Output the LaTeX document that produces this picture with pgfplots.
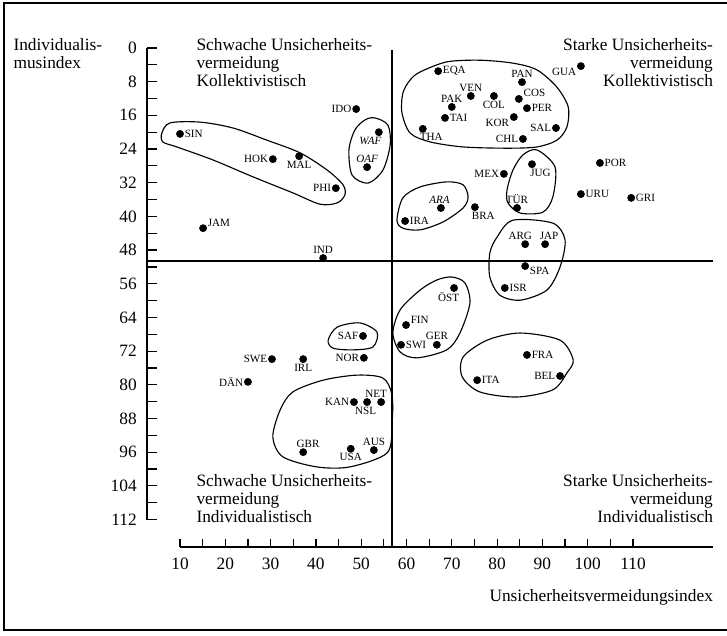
\documentclass[border=0pt]{standalone}
\usepackage{fontspec}
\setmainfont{Liberation Serif}
\usepackage{pgfplots}
\pgfplotsset{compat=1.18}
\newcommand\qfont{\fontsize{13}{13.4}\selectfont}
\newcommand\cfont{\fontsize{8.3}{9}\selectfont}
\pgfplotsset{
  unit/.style={x=3.3975pt, y=3.1575pt},
  blob/.style={black, line width=0.85pt, smooth cycle, mark=none},
  dots/.style={only marks, mark=*, mark size=2.7pt, black,
    nodes near coords, point meta=explicit symbolic,
    visualization depends on={value \thisrow{ang}\as\ang},
    every node near coord/.append style={anchor=\ang, inner sep=3.4pt, font=\cfont}},
}
\begin{document}
\begin{tikzpicture}
\useasboundingbox (0,0) rectangle (545.25pt,476.25pt);
\draw[line width=1pt] (545.25pt,474pt) -- (3pt,474pt) -- (3pt,3.75pt) -- (545.25pt,3.75pt);

\begin{axis}[at={(0,0)}, anchor=south west, unit, y dir=reverse,
  xmin=-29.73, xmax=130.75, ymin=-11.40, ymax=139.43,
  axis lines=none, clip=false]

% quadrant dividers
\addplot[black, line width=0.9pt, mark=none] coordinates {(2.7,50.6) (127.6,50.6)};
\addplot[black, line width=0.9pt, mark=none] coordinates {(56.8,0.5) (56.8,118.5)};

% groups
\addplot[blob] coordinates {(6.0,20.2) (7.8,17.8) (14.4,17.6) (21.7,19.0) (29.2,21.9) (36.5,24.9) (42.5,29.0) (46.0,32.5) (46.4,34.9) (44.7,36.8) (40.9,37.1) (34.9,34.4) (26.1,30.6) (17.3,26.6) (9.3,23.5) (6.2,22.3)};
\addplot[blob] coordinates {(53.0,16.6) (55.9,18.3) (56.4,23.0) (54.8,29.0) (51.5,32.1) (48.0,30.2) (47.3,24.2) (48.6,19.5) (50.8,17.1)};
\addplot[blob] coordinates {(63.0,5.7) (68.9,3.3) (76.2,2.9) (83.5,3.6) (88.8,5.2) (93.2,9.3) (95.7,14.0) (95.4,18.8) (93.2,21.9) (88.8,23.5) (82.2,23.8) (72.5,23.5) (65.2,22.3) (60.8,20.2) (59.0,15.4) (59.2,10.7) (60.8,7.6)};
\addplot[blob] coordinates {(88.8,24.2) (92.8,28.3) (92.3,35.4) (90.1,39.0) (85.1,39.2) (82.4,36.8) (82.2,33.7) (83.5,29.0) (85.7,25.4)};
\addplot[blob] coordinates {(57.9,40.9) (59.2,35.6) (63.0,33.0) (68.9,31.8) (72.5,32.5) (73.6,35.4) (72.5,38.0) (68.1,41.3) (63.0,43.2) (59.2,42.8)};
\addplot[blob] coordinates {(83.5,40.9) (92.3,41.6) (95.0,45.6) (93.9,52.0) (91.0,57.5) (85.1,59.9) (80.6,58.7) (78.4,54.4) (78.4,48.7) (80.0,44.9)};
\addplot[blob] coordinates {(70.0,54.4) (72.9,55.8) (74.0,60.6) (71.8,67.7) (68.9,71.7) (62.3,73.6) (58.6,72.2) (57.0,67.7) (58.6,62.2) (63.0,57.5) (66.7,55.1)};
\addplot[blob] coordinates {(85.1,67.7) (93.9,69.4) (96.8,74.1) (95.4,77.2) (92.3,81.2) (84.4,82.9) (76.2,81.7) (72.3,78.1) (72.5,73.4) (77.8,69.4)};
\addplot[blob] coordinates {(42.7,69.4) (44.7,66.3) (49.7,65.3) (53.5,67.5) (52.6,71.0) (48.2,71.7) (43.8,71.3)};
\addplot[blob] coordinates {(34.9,81.7) (41.6,78.9) (49.1,77.7) (54.8,78.4) (56.8,82.4) (56.8,89.5) (55.7,96.2) (47.5,99.5) (40.2,99.5) (32.7,97.1) (30.5,92.4) (32.1,86.0)};

% countries
\addplot[dots] table[meta=label] {
x y label ang
10.0 20.4 SIN 180
30.5 26.4 HOK 0
36.3 25.7 MAL 90
44.4 33.3 PHI 0
48.9 14.5 IDO 0
15.1 42.8 JAM 200
41.6 49.9 IND 270
30.3 73.9 SWE 0
37.2 73.9 IRL 90
50.6 73.6 NOR 0
50.4 68.4 SAF 0
25.0 79.3 DÄN 0
48.4 84.1 KAN 0
51.3 84.1 NSL 80
54.4 84.1 NET 300
37.2 96.0 GBR 240
47.7 95.2 USA 90
52.8 95.5 AUS 270
67.0 5.5 EQA 180
74.2 11.4 VEN 270
79.3 11.4 COL 90
70.0 14.0 PAK 270
85.5 8.1 PAN 270
84.8 12.1 COS 200
86.6 14.3 PER 180
68.5 16.6 TAI 180
83.7 16.4 KOR 20
93.0 19.0 SAL 0
63.6 19.2 THA 135
85.7 21.6 CHL 0
98.5 4.3 GUA 20
102.7 27.3 POR 180
81.5 29.9 MEX 0
87.7 27.6 JUG 135
98.5 34.7 URU 180
109.6 35.6 GRI 180
84.4 38.0 TÜR 270
75.1 37.8 BRA 135
59.7 41.1 IRA 180
86.2 46.6 ARG 300
90.6 46.6 JAP 245
86.2 51.8 SPA 160
81.7 57.0 ISR 180
70.5 57.0 ÖST 60
59.9 65.8 FIN 200
58.8 70.5 SWI 180
66.7 70.5 GER 270
86.6 72.9 FRA 180
75.6 78.9 ITA 180
93.9 77.9 BEL 0
};
\addplot[dots, every node near coord/.append style={font=\cfont\itshape}] table[meta=label] {
x y label ang
53.9 20.0 WAF 45
51.3 28.3 OAF 270
67.6 38.0 ARA 280
};

% texts
\node[anchor=north west, align=left, inner sep=0pt, font=\qfont] at (axis cs:-26.8,-2.3) {Individualis-\\musindex};
\node[anchor=north west, align=left, inner sep=0pt, font=\qfont] at (axis cs:13.6,-2.3) {Schwache Unsicherheits-\\vermeidung\\Kollektivistisch};
\node[anchor=north east, align=right, inner sep=0pt, font=\qfont] at (axis cs:127.7,-2.3) {Starke Unsicherheits-\\vermeidung\\Kollektivistisch};
\node[anchor=north west, align=left, inner sep=0pt, font=\qfont] at (axis cs:13.6,101.2) {Schwache Unsicherheits-\\vermeidung\\Individualistisch};
\node[anchor=north east, align=right, inner sep=0pt, font=\qfont] at (axis cs:127.7,101.2) {Starke Unsicherheits-\\vermeidung\\Individualistisch};
\node[anchor=east, inner sep=0pt, font=\qfont] at (axis cs:127.7,130.4) {Unsicherheitsvermeidungsindex};
\end{axis}

% y axis
\begin{axis}[at={(110.25pt,86.625pt)}, anchor=south west, unit, y dir=reverse,
  xmin=2.7, xmax=5, ymin=0, ymax=112,
  axis x line=none, axis y line=left, axis line style={-, line width=0.9pt},
  ytick={0,8,...,112}, minor ytick={4,12,...,108},
  tick align=inside, major tick length=7.5pt, minor tick length=7.5pt,
  tick style={black, line width=0.9pt},
  yticklabel style={inner sep=0pt, xshift=-7.5pt, font=\qfont},
  /pgf/number format/assume math mode=true]
\end{axis}

% x axis
\begin{axis}[at={(135pt,66pt)}, anchor=south west, x=3.3975pt, y=10pt,
  xmin=10, xmax=127.6, ymin=0, ymax=1,
  axis y line=none, axis x line=bottom, axis line style={-, line width=0.9pt},
  xtick={10,20,...,110}, minor xtick={15,25,...,105},
  tick align=inside, major tick length=6pt, minor tick length=6pt,
  tick style={black, line width=0.9pt},
  xticklabel style={inner sep=0pt, yshift=-8pt, font=\qfont},
  /pgf/number format/assume math mode=true]
\end{axis}
\end{tikzpicture}
\end{document}
